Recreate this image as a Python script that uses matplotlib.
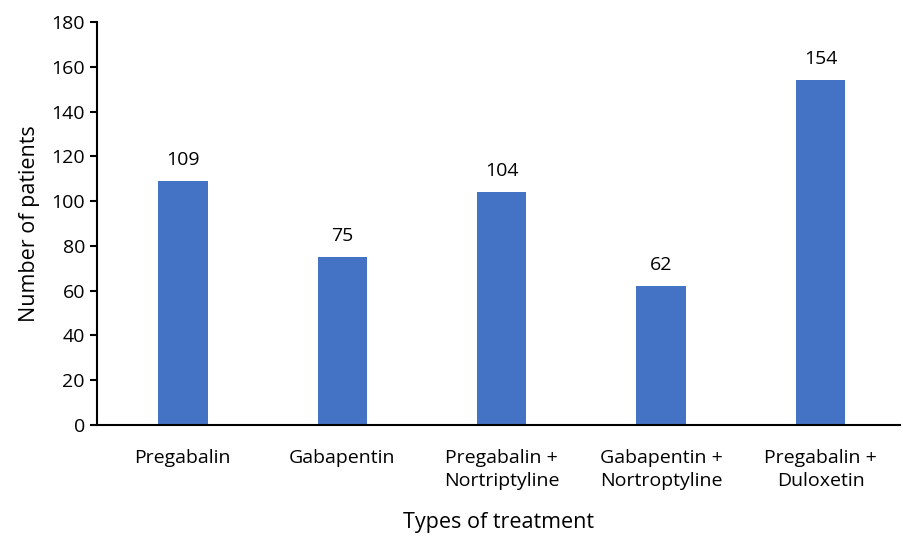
import matplotlib.pyplot as plt

# datos de la grafica
tratamientos = ["Pregabalin", "Gabapentin", "Pregabalin +\nNortriptyline",
                "Gabapentin +\nNortroptyline", "Pregabalin +\nDuloxetin"]
pacientes = [109, 75, 104, 62, 154]

plt.rcParams['font.family'] = ['Open Sans', 'DejaVu Sans']

fig = plt.figure(figsize=(9.04, 5.39), dpi=100)
ax = fig.add_axes([0.107, 0.2115, 0.889, 0.7475])

x = range(len(tratamientos))
barras = ax.bar(x, pacientes, width=0.31, color="#4472C4")

# etiquetas encima de cada barra
for b, v in zip(barras, pacientes):
    ax.annotate(str(v), (b.get_x() + b.get_width() / 2, v), xytext=(0, 9),
                textcoords="offset points", ha="center", va="bottom", fontsize=14)

ax.set_xlim(-0.54, 4.5)
ax.set_ylim(0, 180)
ax.set_yticks(range(0, 181, 20))
ax.set_xticks(list(x))
ax.set_xticklabels(tratamientos, fontsize=14, linespacing=1.4)
ax.tick_params(axis="y", labelsize=14, length=5, width=1.5, direction="out")
ax.tick_params(axis="x", length=0, pad=17)

for s in ["top", "right"]:
    ax.spines[s].set_visible(False)
for s in ["left", "bottom"]:
    ax.spines[s].set_linewidth(1.5)
    ax.spines[s].set_color("black")

ax.set_xlabel("Types of treatment", fontsize=15.5, labelpad=16)
ax.set_ylabel("Number of patients", fontsize=15.5, labelpad=8)

fig.savefig("out.png", dpi=100)
